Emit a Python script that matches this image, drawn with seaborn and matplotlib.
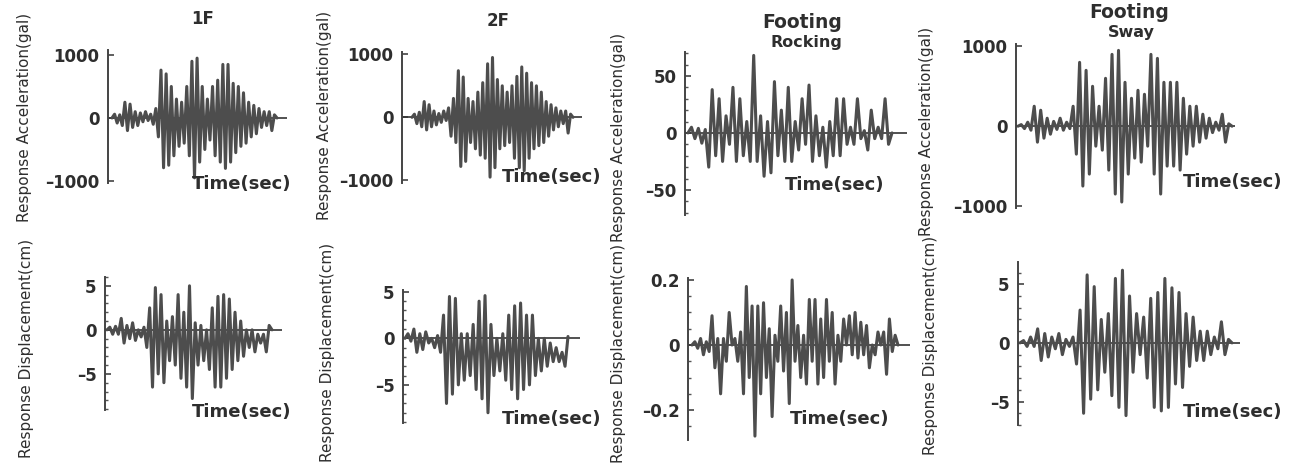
import numpy as np
import pandas as pd
import matplotlib
matplotlib.use("Agg")
import matplotlib.pyplot as plt
import seaborn as sns
from matplotlib.ticker import MultipleLocator, FixedLocator

W, H = 1294, 469

# ---------------- data (peak values, in time order) ----------------
acc_1F = [0, 60, -80, 50, -120, 250, -200, 220, -150, 100, -120, 80, -60, 100, -40, 60, -100, 150,
          -300, 760, -790, 700, -750, 500, -600, 300, -450, 250, -400, 500, -600, 900, -950, 950,
          -700, 500, -500, 300, -350, 500, -600, 600, -700, 850, -800, 850, -700, 550, -550, 500,
          -450, 400, -400, 250, -300, 200, -250, 150, -150, 100, -120, 100, -200, 50, 0]
acc_2F = [0, 50, -100, 80, -150, 250, -200, 200, -150, 100, -120, 60, -80, 100, -50, 150, -300, 300,
          -400, 740, -780, 640, -700, 300, -400, 250, -500, 400, -600, 550, -650, 850, -950, 950,
          -800, 600, -500, 500, -450, 400, -400, 500, -650, 650, -800, 800, -850, 700, -650, 550,
          -500, 500, -450, 400, -400, 250, -300, 200, -200, 150, -150, 100, -100, 100, -250, 50, 0]
acc_rock = [0, 5, -5, 4, -9, 3, -30, 38, -20, 30, -25, 15, -10, 40, -25, 30, -20, 10, -25, 68, -25,
            15, -38, 10, -35, 45, -20, 20, -25, 40, -25, 10, -15, 30, -10, 42, -25, 15, -20, 5, -30,
            10, -20, 30, -20, 30, -10, 5, -10, 30, -5, 2, -15, 20, -5, 5, -5, 30, -10, 0]
acc_sway = [0, 20, -30, 50, -50, 250, -200, 200, -150, 100, -100, 60, -40, 100, -50, 50, -30, 250,
            -350, 800, -750, 700, -600, 500, -250, 250, -300, 600, -550, 900, -850, 950, -950, 550,
            -600, 350, -400, 450, -450, 400, -250, 900, -600, 850, -850, 550, -500, 550, -500, 550,
            -550, 350, -350, 250, -250, 250, -200, 150, -150, 100, -80, 50, -50, 150, -200, 30, 0]
disp_1F = [0, 0.3, -0.5, 0.4, -0.5, 1.3, -1.5, 0.5, -1.0, 0.8, -1.2, 0.0, -0.8, 0.3, -2.0, 2.5, -6.5,
           4.8, -5.0, 4.0, -6.0, 1.0, -3.5, 1.5, -4.0, 4.0, -5.5, 2.0, -6.5, 5.0, -7.8, 0.8, -4.0,
           0.5, -3.5, 0.0, -4.5, 2.5, -6.5, 3.8, -6.5, 4.0, -5.5, 3.5, -4.5, 2.0, -3.5, 1.0, -3.0,
           0.0, -2.0, 0.0, -2.5, -0.5, -1.5, -0.5, -2.5, 0.5, 0.0]
disp_2F = [0, 0.5, -0.3, 1.0, -1.5, 0.5, -1.2, 0.7, -0.5, 0.0, -1.0, 0.3, -1.5, 2.5, -7.0, 4.5, -6.0,
           4.3, -5.0, 0.5, -4.5, 0.5, -4.0, 1.5, -5.5, 4.0, -6.5, 4.6, -8.0, 1.5, -4.0, 0.0, -3.5,
           0.5, -4.5, 2.5, -5.5, 3.5, -6.5, 3.8, -5.5, 2.5, -5.0, 2.5, -4.0, 0.0, -3.5, 0.0, -3.0,
           -0.5, -2.5, -1.0, -2.5, -1.5, -3.0, 0.2]
disp_rock = [0, 0.01, -0.01, 0.02, -0.03, 0.01, -0.02, 0.09, -0.07, 0.02, -0.15, 0.02, -0.05, 0.10,
             0.0, 0.02, -0.05, 0.04, -0.15, 0.18, -0.10, 0.12, -0.28, 0.12, -0.15, 0.13, -0.10,
             0.05, -0.22, 0.03, -0.05, 0.12, -0.08, 0.10, -0.18, 0.20, -0.05, 0.06, -0.10, 0.03,
             -0.12, 0.14, -0.05, 0.14, -0.12, 0.08, -0.10, 0.14, -0.05, 0.10, -0.12, 0.03, -0.05,
             0.08, 0.0, 0.09, -0.03, 0.10, -0.04, 0.07, -0.03, 0.06, -0.07, 0.0, -0.03, 0.04, 0.0,
             0.04, -0.09, 0.08, -0.02, 0.03, 0.0]
disp_sway = [0, 0.2, -0.3, 0.5, -0.3, 1.2, -1.5, 0.8, -1.2, 0.5, -0.5, 0.8, -1.0, 0.3, -0.3, 0.5,
             -1.8, 2.8, -6.0, 5.8, -4.8, 4.8, -4.0, 2.0, -2.5, 2.5, -4.5, 5.5, -5.5, 6.2, -6.2, 4.0,
             -2.5, 2.5, -1.0, 2.2, -3.0, 3.8, -5.5, 4.3, -5.8, 5.5, -5.5, 4.7, -3.5, 4.3, -3.8,
             2.5, -2.0, 2.2, -1.5, 1.0, -1.5, 1.0, -1.0, 0.5, -0.5, 1.8, -1.0, 0.3, 0.0]

acc_ticks = [-1000, 0, 1000]
acc_ticklabels = ["\u20131000", "0", "1000"]
rock_acc_ticks = [-50, 0, 50]
rock_acc_ticklabels = ["\u201350", "0", "50"]
disp_ticks = [-5, 0, 5]
disp_ticklabels = ["\u20135", "0", "5"]
rock_disp_ticks = [-0.2, 0, 0.2]
rock_disp_ticklabels = ["\u20130.2", "0", "0.2"]

acc_label = "Response Acceleration(gal)"
disp_label = "Response Displacement(cm)"
time_label = "Time(sec)"

# ---------------- style ----------------
sns.set_theme(style="white")
plt.rcParams["font.family"] = ["DejaVu Sans"]
TXT = "#2e2e2e"
LINE = "#4d4d4d"

fig = plt.figure(figsize=(W / 100, H / 100), dpi=100)
fig.patch.set_facecolor("white")

# layout in pixels: axis left, right, top, bottom, ylim, signal start/end, minor step,
# ylabel centre, Time label left/centre
panels = [
    dict(v=acc_1F, L=108, R=287, T=50, B=183, ylim=(-1032, 1079), s=112, e=277, minor=None,
         ticks=acc_ticks, tl=acc_ticklabels, lab=acc_label, lxy=(25, 117), txy=(192, 184)),
    dict(v=acc_2F, L=402, R=582, T=52, B=183, ylim=(-1043, 1037), s=412, e=573, minor=None,
         ticks=acc_ticks, tl=acc_ticklabels, lab=acc_label, lxy=(325, 115), txy=(502, 177)),
    dict(v=acc_rock, L=685, R=907, T=52, B=215, ylim=(-72, 71), s=688, e=892, minor=10,
         ticks=rock_acc_ticks, tl=rock_acc_ticklabels, lab=acc_label, lxy=(618, 137), txy=(785, 185)),
    dict(v=acc_sway, L=1016, R=1235, T=44, B=208, ylim=(-1025, 1030), s=1018, e=1232, minor=None,
         ticks=acc_ticks, tl=acc_ticklabels, lab=acc_label, lxy=(927, 131), txy=(1183, 182)),
    dict(v=disp_1F, L=105, R=282, T=277, B=410, ylim=(-9.1, 6.0), s=107, e=272, minor=1,
         ticks=disp_ticks, tl=disp_ticklabels, lab=disp_label, lxy=(27, 348), txy=(192, 412)),
    dict(v=disp_2F, L=403, R=580, T=290, B=423, ylim=(-9.1, 5.2), s=405, e=568, minor=1,
         ticks=disp_ticks, tl=disp_ticklabels, lab=disp_label, lxy=(327, 352), txy=(502, 419)),
    dict(v=disp_rock, L=688, R=910, T=278, B=440, ylim=(-0.292, 0.206), s=692, e=898, minor=0.05,
         ticks=rock_disp_ticks, tl=rock_disp_ticklabels, lab=disp_label, lxy=(619, 353), txy=(790, 419)),
    dict(v=disp_sway, L=1018, R=1240, T=262, B=425, ylim=(-7.0, 6.9), s=1020, e=1232, minor=1,
         ticks=disp_ticks, tl=disp_ticklabels, lab=disp_label, lxy=(930, 345), txy=(1183, 412)),
]

for p in panels:
    ax = fig.add_axes([p["L"] / W, 1 - p["B"] / H, (p["R"] - p["L"]) / W, (p["B"] - p["T"]) / H])
    ax.set_facecolor("none")
    n = len(p["v"])
    df = pd.DataFrame({"t": np.arange(n), "y": p["v"]})
    sns.lineplot(data=df, x="t", y="y", ax=ax, color=LINE, linewidth=2.2, sort=False,
                 estimator=None)
    k = (p["e"] - p["s"]) / (n - 1)
    ax.set_xlim(-(p["s"] - p["L"]) / k, (p["R"] - p["s"]) / k)
    ax.set_ylim(*p["ylim"])
    ax.axhline(0, color="#333333", linewidth=1.2, zorder=1)
    for side in ["top", "right", "bottom"]:
        ax.spines[side].set_visible(False)
    ax.spines["left"].set_color("#444444")
    ax.spines["left"].set_linewidth(1.4)
    ax.set_xticks([])
    ax.set_xlabel("")
    ax.set_ylabel("")
    ax.yaxis.set_major_locator(FixedLocator(p["ticks"]))
    ax.set_yticklabels(p["tl"], fontsize=12, fontweight="bold", color=TXT)
    ax.tick_params(axis="y", which="major", direction="in", length=4, width=1.2,
                   color="#444444", pad=6, left=True)
    if p["minor"]:
        ax.yaxis.set_minor_locator(MultipleLocator(p["minor"]))
        ax.tick_params(axis="y", which="minor", direction="in", length=2, width=1,
                       color="#555555", left=True)
    fig.text(p["lxy"][0] / W, 1 - p["lxy"][1] / H, p["lab"], rotation=90, ha="center",
             va="center", fontsize=11, color=TXT)
    fig.text(p["txy"][0] / W, 1 - p["txy"][1] / H, time_label, ha="left", va="center",
             fontsize=13, fontweight="bold", color=TXT)

# titles
fig.text(203 / W, 1 - 19 / H, "1F", ha="center", va="center", fontsize=12, fontweight="bold", color=TXT)
fig.text(498 / W, 1 - 21 / H, "2F", ha="center", va="center", fontsize=12, fontweight="bold", color=TXT)
fig.text(802 / W, 1 - 22 / H, "Footing", ha="center", va="center", fontsize=13.5, fontweight="bold", color=TXT)
fig.text(806 / W, 1 - 42 / H, "Rocking", ha="center", va="center", fontsize=11.5, fontweight="bold", color=TXT)
fig.text(1129 / W, 1 - 13 / H, "Footing", ha="center", va="center", fontsize=13.5, fontweight="bold", color=TXT)
fig.text(1131 / W, 1 - 33 / H, "Sway", ha="center", va="center", fontsize=11.5, fontweight="bold", color=TXT)

fig.savefig("out.png", dpi=100, facecolor="white")
